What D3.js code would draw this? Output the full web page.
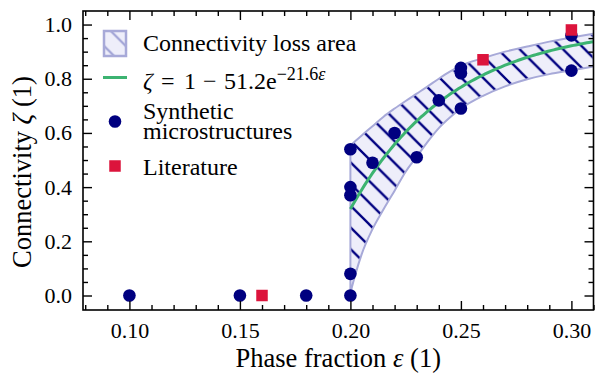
<!DOCTYPE html>
<html><head><meta charset="utf-8">
<script src="https://cdn.jsdelivr.net/npm/d3@7"></script>
<style>
body{margin:0;background:#fff}
svg{display:block}
text{font-family:"Liberation Serif","Times New Roman",serif;fill:#000}
</style>
</head><body>
<svg id="chart" width="596" height="376"></svg>
<script>
// ---- data ----
const synthEps  = [0.10, 0.15, 0.18, 0.20, 0.20, 0.20, 0.20, 0.20, 0.21, 0.22, 0.23, 0.24, 0.25, 0.25, 0.25, 0.30, 0.30];
const synthZeta = [0.00, 0.00, 0.00, 0.00, 0.08, 0.37, 0.40, 0.54, 0.49, 0.60, 0.51, 0.72, 0.69, 0.82, 0.84, 0.83, 0.96];
const litEps  = [0.16, 0.26, 0.30];
const litZeta = [0.00, 0.87, 0.98];
// connectivity loss band
const bandEps   = [0.200, 0.2025, 0.205, 0.210, 0.215, 0.220, 0.225, 0.230, 0.235, 0.240, 0.245, 0.250, 0.260, 0.270, 0.280, 0.290, 0.300, 0.310];
const bandUpper = [0.553, 0.572, 0.590, 0.625, 0.660, 0.690, 0.718, 0.745, 0.772, 0.800, 0.826, 0.848, 0.876, 0.900, 0.919, 0.937, 0.952, 0.966];
const bandLower = [0.010, 0.085, 0.150, 0.245, 0.318, 0.387, 0.457, 0.512, 0.568, 0.618, 0.657, 0.690, 0.737, 0.772, 0.798, 0.817, 0.831, 0.845];
// fitted model from legend: zeta = 1 - A e^{-B eps}
const fitA = 51.2, fitB = 21.6;
const fitRange = [0.20, 0.31];
// ticks
const xMajor = [0.10, 0.15, 0.20, 0.25, 0.30];
const xMajorLabels = ["0.10", "0.15", "0.20", "0.25", "0.30"];
const xMinor = [0.08, 0.09, 0.11, 0.12, 0.13, 0.14, 0.16, 0.17, 0.18, 0.19, 0.21, 0.22, 0.23, 0.24, 0.26, 0.27, 0.28, 0.29, 0.31];
const yMajor = [0.0, 0.2, 0.4, 0.6, 0.8, 1.0];
const yMajorLabels = ["0.0", "0.2", "0.4", "0.6", "0.8", "1.0"];
const yMinor = [0.05, 0.1, 0.15, 0.25, 0.3, 0.35, 0.45, 0.5, 0.55, 0.65, 0.7, 0.75, 0.85, 0.9, 0.95];
const legendLabels = ["Connectivity loss area", "Synthetic", "microstructures", "Literature"];

// ---- layout ----
const L = 83, R = 593.5, T = 11, B = 310;
const navy = "#000080", crimson = "#dc143c", green = "#3cb371";
const bandFill = "#eeeefa", bandEdge = "#a7a9d8";
const tickFont = 22, labelFont = 26.5, legFont = 24;

const svg = d3.select("#chart");
const x = d3.scaleLinear().domain([0.079, 0.31]).range([L, R]);
const y = d3.scaleLinear().domain([-0.0535, 1.05]).range([B, T]);

const defs = svg.append("defs");
defs.append("clipPath").attr("id", "clip").append("rect")
  .attr("x", L).attr("y", T).attr("width", R - L).attr("height", B - T);
function hatch(id, color, sw) {
  const s = 21.7;
  const p = defs.append("pattern").attr("id", id).attr("patternUnits", "userSpaceOnUse")
    .attr("width", s).attr("height", s).attr("patternTransform", "translate(0,7)");
  p.append("path")
    .attr("d", `M-3,-3L${s+3},${s+3}M-3,${s-3}L3,${s+3}M${s-3},-3L${s+3},3`)
    .attr("stroke", color).attr("stroke-width", sw).attr("fill", "none");
}
hatch("hatch", navy, 2.3);
hatch("hatchLeg", "#9da0d4", 2.2);

const plot = svg.append("g").attr("clip-path", "url(#clip)");

// band
const bandData = bandEps.map((e, i) => ({e, u: bandUpper[i], l: bandLower[i]}));
const area = d3.area().x(d => x(d.e)).y0(d => y(d.l)).y1(d => y(d.u)).curve(d3.curveMonotoneX);
plot.append("path").datum(bandData).attr("d", area).attr("fill", bandFill);
plot.append("path").datum(bandData).attr("d", area).attr("fill", "url(#hatch)");
plot.append("path").datum(bandData).attr("d", area).attr("fill", "none")
  .attr("stroke", bandEdge).attr("stroke-width", 2).attr("stroke-linejoin", "round");

// fit curve
const fitEps = d3.range(0, 111).map(i => fitRange[0] + i * (fitRange[1] - fitRange[0]) / 110);
const fitLine = d3.line().x(e => x(e)).y(e => y(1 - fitA * Math.exp(-fitB * e)));
plot.append("path").datum(fitEps).attr("d", fitLine).attr("fill", "none")
  .attr("stroke", green).attr("stroke-width", 3);

// points
plot.selectAll("circle.s").data(synthEps).enter().append("circle")
  .attr("cx", d => x(d)).attr("cy", (d, i) => y(synthZeta[i])).attr("r", 6.3).attr("fill", navy);
const sq = 11.5;
plot.selectAll("rect.l").data(litEps).enter().append("rect")
  .attr("x", d => x(d) - sq / 2).attr("y", (d, i) => y(litZeta[i]) - sq / 2)
  .attr("width", sq).attr("height", sq).attr("fill", crimson);

// axes (ticks inward, all four sides)
function styleAxis(g) {
  g.select(".domain").remove();
  g.selectAll(".tick line").attr("stroke", "#000").attr("stroke-width", 1.4);
  g.selectAll("text").style("font-size", tickFont + "px").style("font-family", '"Liberation Serif",serif');
}
const maj = 9, mnr = 5;
svg.append("g").attr("transform", `translate(0,${B})`)
  .call(d3.axisBottom(x).tickValues(xMajor).tickFormat((d, i) => xMajorLabels[i]).tickSizeInner(-maj).tickSizeOuter(0).tickPadding(12)).call(styleAxis);
svg.append("g").attr("transform", `translate(0,${B})`)
  .call(d3.axisBottom(x).tickValues(xMinor).tickFormat("").tickSizeInner(-mnr).tickSizeOuter(0)).call(styleAxis);
svg.append("g").attr("transform", `translate(0,${T})`)
  .call(d3.axisTop(x).tickValues(xMajor).tickFormat("").tickSizeInner(-maj).tickSizeOuter(0)).call(styleAxis);
svg.append("g").attr("transform", `translate(0,${T})`)
  .call(d3.axisTop(x).tickValues(xMinor).tickFormat("").tickSizeInner(-mnr).tickSizeOuter(0)).call(styleAxis);
svg.append("g").attr("transform", `translate(${L},0)`)
  .call(d3.axisLeft(y).tickValues(yMajor).tickFormat((d, i) => yMajorLabels[i]).tickSizeInner(-maj).tickSizeOuter(0).tickPadding(11)).call(styleAxis);
svg.append("g").attr("transform", `translate(${L},0)`)
  .call(d3.axisLeft(y).tickValues(yMinor).tickFormat("").tickSizeInner(-mnr).tickSizeOuter(0)).call(styleAxis);
svg.append("g").attr("transform", `translate(${R},0)`)
  .call(d3.axisRight(y).tickValues(yMajor).tickFormat("").tickSizeInner(-maj).tickSizeOuter(0)).call(styleAxis);
svg.append("g").attr("transform", `translate(${R},0)`)
  .call(d3.axisRight(y).tickValues(yMinor).tickFormat("").tickSizeInner(-mnr).tickSizeOuter(0)).call(styleAxis);

// frame
svg.append("rect").attr("x", L).attr("y", T).attr("width", R - L).attr("height", B - T)
  .attr("fill", "none").attr("stroke", "#000").attr("stroke-width", 1.6);

// axis labels
const xl = svg.append("text").attr("x", (L + R) / 2).attr("y", 367).attr("text-anchor", "middle")
  .style("font-size", labelFont + "px");
xl.append("tspan").text("Phase fraction ");
xl.append("tspan").style("font-style", "italic").text("ε");
xl.append("tspan").text(" (1)");
const yl = svg.append("text").attr("transform", `translate(31,172) rotate(-90)`)
  .attr("text-anchor", "middle").style("font-size", labelFont + "px");
yl.append("tspan").text("Connectivity ");
yl.append("tspan").style("font-style", "italic").text("ζ");
yl.append("tspan").text(" (1)");

// legend
const lg = svg.append("g");
lg.append("rect").attr("x", 104).attr("y", 31).attr("width", 22).attr("height", 25).attr("fill", bandFill);
lg.append("rect").attr("x", 104).attr("y", 31).attr("width", 22).attr("height", 25).attr("fill", "url(#hatchLeg)")
  .attr("stroke", bandEdge).attr("stroke-width", 2.5);
lg.append("text").attr("x", 143).attr("y", 51).style("font-size", legFont + "px").text(legendLabels[0]);
lg.append("line").attr("x1", 103).attr("x2", 127).attr("y1", 77.5).attr("y2", 77.5)
  .attr("stroke", green).attr("stroke-width", 3);
const ft = lg.append("text").attr("y", 89).style("font-size", legFont + "px");
ft.append("tspan").attr("x", 143).style("font-style", "italic").text("ζ");
ft.append("tspan").attr("x", 161).text("=");
ft.append("tspan").attr("x", 184).text("1");
ft.append("tspan").attr("x", 203).text("−");
ft.append("tspan").attr("x", 224).text(fitA + "e");
ft.append("tspan").attr("dy", -9).style("font-size", "18px").text("−" + fitB);
ft.append("tspan").style("font-size", "18px").style("font-style", "italic").text("ε");
lg.append("circle").attr("cx", 115).attr("cy", 121.5).attr("r", 6.3).attr("fill", navy);
const st = lg.append("text").attr("y", 119).style("font-size", legFont + "px");
st.append("tspan").attr("x", 143).text(legendLabels[1]);
st.append("tspan").attr("x", 143).attr("dy", 19.5).text(legendLabels[2]);
lg.append("rect").attr("x", 115 - sq / 2).attr("y", 166 - sq / 2).attr("width", sq).attr("height", sq).attr("fill", crimson);
lg.append("text").attr("x", 143).attr("y", 175).style("font-size", legFont + "px").text(legendLabels[3]);
</script>
</body></html>
